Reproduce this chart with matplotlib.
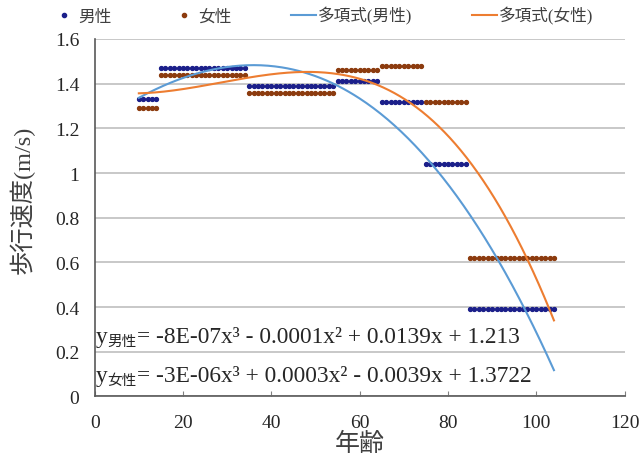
import numpy as np
import matplotlib
matplotlib.use("Agg")
import matplotlib.pyplot as plt
from matplotlib.lines import Line2D

plt.rcParams['font.family'] = ['Liberation Serif', 'Noto Sans CJK JP']

# Age groups (inclusive) and mean walking speeds (m/s)
group_start = [10, 15, 35, 55, 65, 75, 85]
group_end = [14, 34, 54, 64, 74, 84, 104]
male_speed = [1.33, 1.47, 1.39, 1.41, 1.32, 1.04, 0.39]
female_speed = [1.29, 1.44, 1.36, 1.46, 1.48, 1.32, 0.62]

legend_labels = ["男性", "女性", "多項式(男性)", "多項式(女性)"]
eq_male = "= -8E-07x³ - 0.0001x² + 0.0139x + 1.213"
eq_female = "= -3E-06x³ + 0.0003x² - 0.0039x + 1.3722"
x_ticks = [0, 20, 40, 60, 80, 100, 120]
y_ticks = [0, 0.2, 0.4, 0.6, 0.8, 1.0, 1.2, 1.4, 1.6]
y_tick_labels = ["0", "0.2", "0.4", "0.6", "0.8", "1", "1.2", "1.4", "1.6"]

male_c = "#1b1f8a"
female_c = "#8c3b0e"
male_line_c = "#5B9BD5"
female_line_c = "#ED7D31"

ages = []
m_vals = []
f_vals = []
for s, e, m, f in zip(group_start, group_end, male_speed, female_speed):
    a = np.arange(s, e + 1)
    ages.extend(a)
    m_vals.extend([m] * len(a))
    f_vals.extend([f] * len(a))
ages = np.array(ages, dtype=float)
m_vals = np.array(m_vals)
f_vals = np.array(f_vals)

fig = plt.figure(figsize=(6.41, 4.56), dpi=100)
ax = fig.add_axes([0.1477, 0.1283, 0.9744 - 0.1477, 0.9123 - 0.1283])

ax.plot(ages, m_vals, 'o', color=male_c, markersize=2.8, zorder=3)
ax.plot(ages, f_vals, 'o', color=female_c, markersize=2.8, zorder=3)

xs = np.linspace(ages.min(), ages.max(), 300)
pm = np.polyfit(ages, m_vals, 3)
pf = np.polyfit(ages, f_vals, 3)
ax.plot(xs, np.polyval(pm, xs), color=male_line_c, lw=1.5, zorder=4)
ax.plot(xs, np.polyval(pf, xs), color=female_line_c, lw=1.5, zorder=4)

ax.set_xlim(0, 120)
ax.set_ylim(0, 1.6)
ax.set_xticks(x_ticks)
ax.set_yticks(y_ticks)
ax.set_yticklabels(y_tick_labels)
ax.yaxis.grid(True, color="#bfbfbf", lw=1.2)
ax.set_axisbelow(True)
for sp in ['top', 'right']:
    ax.spines[sp].set_visible(False)
for sp in ['left', 'bottom']:
    ax.spines[sp].set_color("#595959")
    ax.spines[sp].set_linewidth(1.2)
ax.tick_params(axis='x', direction='in', length=3.5, color="#808080",
               labelsize=14, pad=12.5, labelcolor="#262626")
ax.tick_params(axis='y', length=0, labelsize=14, pad=11, labelcolor="#262626")

ax.set_xlabel("年齢", fontsize=18, labelpad=0.5, color="#404040")
ax.set_ylabel("歩行速度(m/s)", fontsize=17.5, color="#404040")
ax.yaxis.set_label_coords(-0.114, 0.552)

# equations
for yb, sub, eq in [(0.244, "男性", eq_male), (0.069, "女性", eq_female)]:
    t1 = ax.text(0.2, yb, "y", fontsize=16.8, va='baseline', ha='left',
                 color="#262626", zorder=5)
    t2 = ax.annotate(sub, xy=(1, 0), xycoords=t1, fontsize=10.5, va='bottom',
                     ha='left', color="#262626", xytext=(0, -1),
                     textcoords='offset points', zorder=5)
    ax.annotate(eq, xy=(1, 0), xycoords=(t2, t1), fontsize=16.8, va='bottom',
                ha='left', color="#262626", zorder=5)

handles = [
    Line2D([], [], ls='none', marker='o', color=male_c, markersize=3),
    Line2D([], [], ls='none', marker='o', color=female_c, markersize=3),
    Line2D([], [], color=male_line_c, lw=1.5),
    Line2D([], [], color=female_line_c, lw=1.5),
]
fig.legend(handles, legend_labels, loc='center', bbox_to_anchor=(0.503, 0.964),
           ncol=4, frameon=False, fontsize=12, handlelength=1.5,
           handletextpad=0.1, columnspacing=3.6, labelcolor="#404040")

fig.savefig("out.png", dpi=100)
